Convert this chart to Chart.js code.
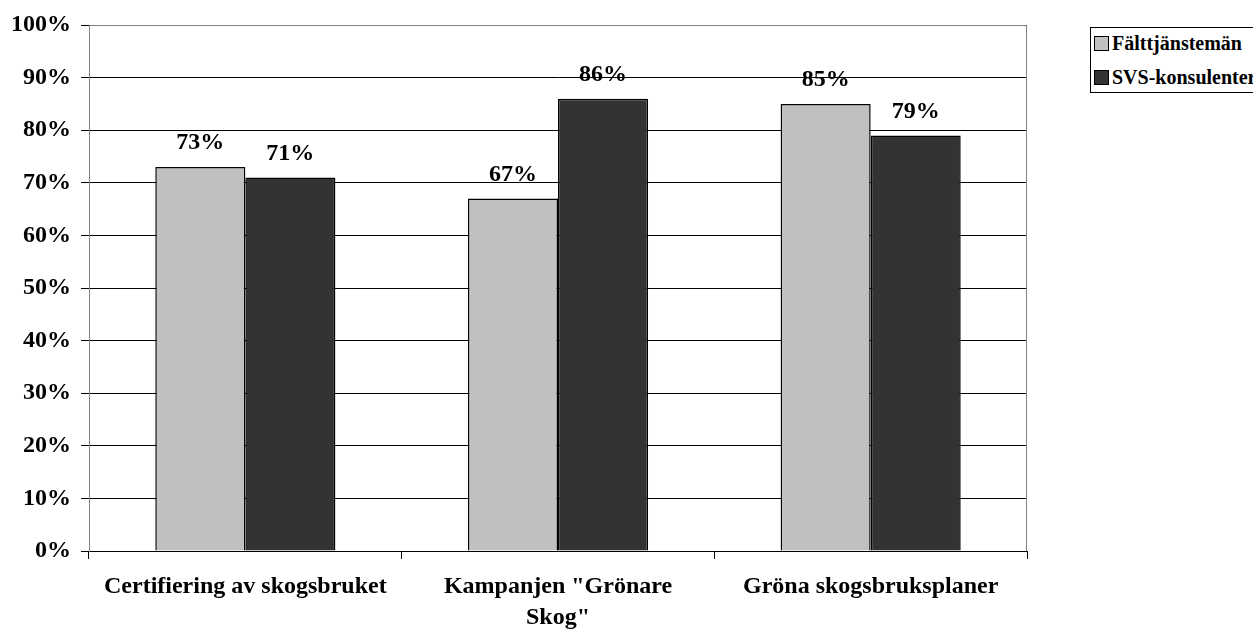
<!DOCTYPE html>
<html>
<head>
<meta charset="utf-8">
<script src="https://cdn.jsdelivr.net/npm/chart.js@4/dist/chart.umd.min.js"></script>
<style>
  html, body { margin: 0; padding: 0; background: #fff; }
  #wrap { position: relative; width: 1253px; height: 630px; }
  #legend {
    position: absolute; left: 1090px; top: 27px; width: 170px; height: 64px;
    border: 1px solid #000; background: #fff;
    font: bold 20px "Liberation Serif", "Times New Roman", serif; color: #000;
  }
  #legend div { position: absolute; left: 3px; display: flex; align-items: center; white-space: nowrap; }
  #legend span.sw { display: inline-block; width: 13px; height: 13px; border: 1px solid #000; margin-right: 3px; }
</style>
</head>
<body>
<div id="wrap">
  <canvas id="c" width="1253" height="630"></canvas>
  <div id="legend"></div>
</div>
<script>
const categories = ['Certifiering av skogsbruket', ['Kampanjen "Grönare', 'Skog"'], 'Gröna skogsbruksplaner'];
const seriesNames = ['Fälttjänstemän', 'SVS-konsulenter'];
const faltValues = [73, 67, 85];
const svsValues = [71, 86, 79];
const seriesColors = ['#C0C0C0', '#333333'];

const FONT = '"Liberation Serif", "Times New Roman", serif';

const legendEl = document.getElementById('legend');
seriesNames.forEach((name, i) => {
  const row = document.createElement('div');
  row.style.top = (i === 0 ? 4 : 38) + 'px';
  row.innerHTML = '<span class="sw" style="background:' + seriesColors[i] + '"></span>' + name;
  legendEl.appendChild(row);
});

const valueLabels = {
  id: 'valueLabels',
  afterDatasetsDraw(chart) {
    const ctx = chart.ctx;
    ctx.save();
    ctx.font = 'bold 24px ' + FONT;
    ctx.fillStyle = '#000';
    ctx.textAlign = 'center';
    ctx.textBaseline = 'middle';
    chart.data.datasets.forEach((ds, di) => {
      chart.getDatasetMeta(di).data.forEach((bar, i) => {
        ctx.fillText(ds.data[i] + '%', bar.x, bar.y - 24);
      });
    });
    ctx.restore();
  }
};

const frame = {
  id: 'frame',
  beforeDatasetsDraw(chart) {
    const a = chart.chartArea, ctx = chart.ctx;
    ctx.save();
    ctx.strokeStyle = '#808080';
    ctx.lineWidth = 1;
    ctx.beginPath();
    ctx.moveTo(a.left + 0.5, a.bottom);
    ctx.lineTo(a.left + 0.5, a.top + 0.5);
    ctx.lineTo(a.right - 0.5, a.top + 0.5);
    ctx.lineTo(a.right - 0.5, a.bottom);
    ctx.stroke();
    ctx.restore();
  }
};

new Chart(document.getElementById('c'), {
  type: 'bar',
  data: {
    labels: categories,
    datasets: [
      { label: seriesNames[0], data: faltValues, backgroundColor: seriesColors[0], borderColor: '#000', borderWidth: 1.5 },
      { label: seriesNames[1], data: svsValues, backgroundColor: seriesColors[1], borderColor: '#000', borderWidth: 1.5 }
    ]
  },
  options: {
    responsive: false,
    animation: false,
    layout: { padding: { left: 0, right: 226, top: 25, bottom: 0 } },
    datasets: { bar: { categoryPercentage: 0.576, barPercentage: 1 } },
    plugins: { legend: { display: false }, tooltip: { enabled: false } },
    scales: {
      x: {
        afterFit: (s) => { s.height = 79; },
        grid: { offset: true, drawOnChartArea: false, drawTicks: true, tickLength: 8, color: '#000' },
        border: { color: '#000' },
        ticks: { color: '#000', font: { family: FONT, size: 24, weight: 'bold', lineHeight: 1.3 }, padding: 12, maxRotation: 0 }
      },
      y: {
        min: 0, max: 100,
        afterFit: (s) => { s.width = 89; },
        grid: { color: '#000', tickLength: 8 },
        border: { color: '#808080' },
        ticks: {
          stepSize: 10, color: '#000', padding: 10,
          font: { family: FONT, size: 24, weight: 'bold' },
          callback: (v) => v + '%'
        }
      }
    }
  },
  plugins: [frame, valueLabels]
});
</script>
</body>
</html>
